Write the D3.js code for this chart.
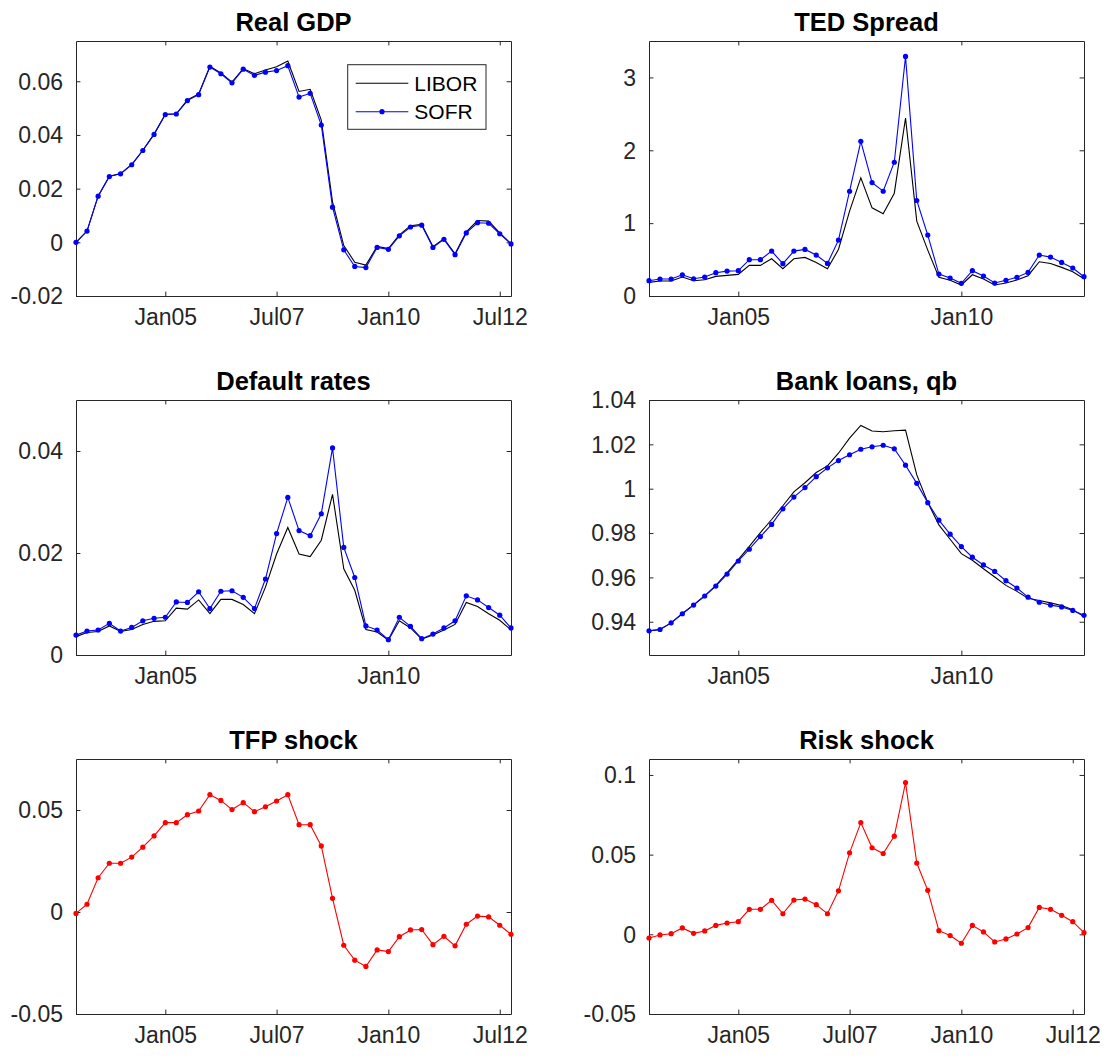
<!DOCTYPE html>
<html>
<head>
<meta charset="utf-8">
<script src="https://cdn.jsdelivr.net/npm/d3@7"></script>
<style>
  body { margin: 0; background: #fff; }
  svg { display: block; }
  text { font-family: "Liberation Sans", Arial, Helvetica, sans-serif; }
</style>
</head>
<body>
<svg id="fig" width="1107" height="1057"></svg>
<script>
// Quarterly observations, 2003Q1 .. 2012Q4 (dates at quarter start)
const quarters = d3.range(40).map(i => new Date(2003 + Math.floor(i / 4), (i % 4) * 3, 1));

// Real GDP
const gdpLibor = [0, 0.0042, 0.0172, 0.0246, 0.0256, 0.0290, 0.0343, 0.0403, 0.0477, 0.0479,
  0.0530, 0.0553, 0.0656, 0.0631, 0.0597, 0.0647, 0.0628, 0.0642, 0.0654, 0.0675,
  0.0562, 0.0570, 0.0455, 0.0151, -0.0012, -0.0074, -0.0085, -0.0015, -0.0023, 0.0028,
  0.0062, 0.0067, -0.0016, 0.0013, -0.0043, 0.0039, 0.0081, 0.0079, 0.0035, -0.0005];
const gdpSofr = [0, 0.0042, 0.0172, 0.0245, 0.0255, 0.0289, 0.0342, 0.0402, 0.0476, 0.0478,
  0.0528, 0.0550, 0.0653, 0.0628, 0.0594, 0.0645, 0.0622, 0.0634, 0.0640, 0.0658,
  0.0541, 0.0555, 0.0437, 0.0131, -0.0028, -0.0090, -0.0094, -0.0019, -0.0026, 0.0024,
  0.0057, 0.0064, -0.0019, 0.0011, -0.0046, 0.0035, 0.0073, 0.0071, 0.0032, -0.0006];

// TED spread
const tedLibor = [0.187, 0.205, 0.205, 0.260, 0.210, 0.224, 0.269, 0.283, 0.297, 0.420,
  0.420, 0.511, 0.374, 0.511, 0.530, 0.461, 0.374, 0.639, 1.164, 1.621,
  1.210, 1.128, 1.411, 2.443, 1.027, 0.630, 0.256, 0.215, 0.151, 0.292,
  0.233, 0.151, 0.178, 0.219, 0.279, 0.470, 0.447, 0.393, 0.333, 0.237];
const tedSofr = [0.210, 0.233, 0.233, 0.292, 0.237, 0.260, 0.320, 0.342, 0.347, 0.498,
  0.498, 0.616, 0.443, 0.616, 0.639, 0.562, 0.447, 0.767, 1.438, 2.123,
  1.557, 1.438, 1.836, 3.288, 1.311, 0.836, 0.301, 0.247, 0.174, 0.347,
  0.274, 0.178, 0.215, 0.256, 0.324, 0.562, 0.534, 0.461, 0.384, 0.265];

// Default rates
const defaultLibor = [0.0036, 0.0044, 0.0046, 0.0057, 0.0046, 0.0050, 0.0060, 0.0066, 0.0067, 0.0092,
  0.0090, 0.0108, 0.0081, 0.0109, 0.0109, 0.0099, 0.0081, 0.0133, 0.0198, 0.0250,
  0.0198, 0.0193, 0.0225, 0.0315, 0.0169, 0.0127, 0.0050, 0.0045, 0.0029, 0.0067,
  0.0053, 0.0031, 0.0039, 0.0049, 0.0060, 0.0103, 0.0095, 0.0081, 0.0068, 0.0049];
const defaultSofr = [0.0039, 0.0047, 0.0049, 0.0062, 0.0047, 0.0054, 0.0067, 0.0072, 0.0074, 0.0104,
  0.0103, 0.0124, 0.0091, 0.0125, 0.0126, 0.0113, 0.0091, 0.0149, 0.0238, 0.0309,
  0.0244, 0.0234, 0.0277, 0.0406, 0.0211, 0.0152, 0.0057, 0.0049, 0.0030, 0.0074,
  0.0056, 0.0032, 0.0041, 0.0053, 0.0067, 0.0116, 0.0108, 0.0093, 0.0078, 0.0053];

// Bank loans, qb
const loansLibor = [0.9359, 0.9365, 0.9395, 0.9437, 0.9476, 0.9517, 0.9564, 0.9620, 0.9680, 0.9740,
  0.9802, 0.9861, 0.9923, 0.9986, 1.0027, 1.0073, 1.0103, 1.0160, 1.0228, 1.0285,
  1.0260, 1.0257, 1.0261, 1.0264, 1.0062, 0.9938, 0.9837, 0.9772, 0.9707, 0.9677,
  0.9639, 0.9602, 0.9564, 0.9537, 0.9506, 0.9496, 0.9485, 0.9473, 0.9454, 0.9423];
const loansSofr = [0.9359, 0.9365, 0.9395, 0.9436, 0.9475, 0.9516, 0.9561, 0.9615, 0.9674, 0.9727,
  0.9784, 0.9839, 0.9909, 0.9962, 1.0005, 1.0054, 1.0094, 1.0127, 1.0153, 1.0178,
  1.0189, 1.0196, 1.0180, 1.0106, 1.0024, 0.9937, 0.9858, 0.9795, 0.9739, 0.9691,
  0.9656, 0.9627, 0.9585, 0.9552, 0.9511, 0.9488, 0.9475, 0.9467, 0.9451, 0.9429];

// Shocks
const tfpShock = [-0.0007, 0.0038, 0.0168, 0.0239, 0.0239, 0.0269, 0.0318, 0.0373, 0.0438, 0.0438,
  0.0477, 0.0495, 0.0575, 0.0547, 0.0502, 0.0536, 0.0492, 0.0516, 0.0544, 0.0575,
  0.0428, 0.0428, 0.0324, 0.0067, -0.0163, -0.0236, -0.0267, -0.0186, -0.0194, -0.0121,
  -0.0088, -0.0086, -0.0160, -0.0119, -0.0166, -0.0060, -0.0020, -0.0024, -0.0065, -0.0109];
const riskShock = [-0.0023, -0.0004, 0.0004, 0.0040, 0.0006, 0.0021, 0.0056, 0.0071, 0.0079, 0.0157,
  0.0157, 0.0213, 0.0129, 0.0215, 0.0221, 0.0186, 0.0129, 0.0273, 0.0511, 0.0701,
  0.0543, 0.0507, 0.0616, 0.0952, 0.0447, 0.0276, 0.0023, -0.0008, -0.0056, 0.0056,
  0.0015, -0.0048, -0.0029, 0.0002, 0.0042, 0.0169, 0.0157, 0.0119, 0.0079, 0.0010];

// Tick positions and labels
const xTicksFull = [new Date(2005, 0, 1), new Date(2007, 6, 1), new Date(2010, 0, 1), new Date(2012, 6, 1)];
const xLabelsFull = ["Jan05", "Jul07", "Jan10", "Jul12"];
const xTicksShort = [new Date(2005, 0, 1), new Date(2010, 0, 1)];
const xLabelsShort = ["Jan05", "Jan10"];

const gdpTicks = [-0.02, 0, 0.02, 0.04, 0.06];
const gdpTickLabels = ["-0.02", "0", "0.02", "0.04", "0.06"];
const tedTicks = [0, 1, 2, 3];
const tedTickLabels = ["0", "1", "2", "3"];
const defaultTicks = [0, 0.02, 0.04];
const defaultTickLabels = ["0", "0.02", "0.04"];
const loansTicks = [0.94, 0.96, 0.98, 1, 1.02, 1.04];
const loansTickLabels = ["0.94", "0.96", "0.98", "1", "1.02", "1.04"];
const tfpTicks = [-0.05, 0, 0.05];
const tfpTickLabels = ["-0.05", "0", "0.05"];
const riskTicks = [-0.05, 0, 0.05, 0.1];
const riskTickLabels = ["-0.05", "0", "0.05", "0.1"];

const seriesNames = ["LIBOR", "SOFR"];

// ---- layout ----
const colX = [76, 649];
const rowY = [41, 400, 759];
const plotW = 435, plotH = 255;
const tickLen = 4.4;
const axisColor = "#262626";

const BLACK = "#000000", BLUE = "#0000ff", RED = "#ff0000";

const panels = [
  { title: "Real GDP", col: 0, row: 0, y: [-0.02, 0.075], yt: gdpTicks, yl: gdpTickLabels,
    xt: xTicksFull, xl: xLabelsFull, legend: true,
    series: [{ v: gdpLibor, c: BLACK, dots: false }, { v: gdpSofr, c: BLUE, dots: true }] },
  { title: "TED Spread", col: 1, row: 0, y: [0, 3.5], yt: tedTicks, yl: tedTickLabels,
    xt: xTicksShort, xl: xLabelsShort,
    series: [{ v: tedLibor, c: BLACK, dots: false }, { v: tedSofr, c: BLUE, dots: true }] },
  { title: "Default rates", col: 0, row: 1, y: [0, 0.05], yt: defaultTicks, yl: defaultTickLabels,
    xt: xTicksShort, xl: xLabelsShort,
    series: [{ v: defaultLibor, c: BLACK, dots: false }, { v: defaultSofr, c: BLUE, dots: true }] },
  { title: "Bank loans, qb", col: 1, row: 1, y: [0.925, 1.04], yt: loansTicks, yl: loansTickLabels,
    xt: xTicksShort, xl: xLabelsShort,
    series: [{ v: loansLibor, c: BLACK, dots: false }, { v: loansSofr, c: BLUE, dots: true }] },
  { title: "TFP shock", col: 0, row: 2, y: [-0.05, 0.075], yt: tfpTicks, yl: tfpTickLabels,
    xt: xTicksFull, xl: xLabelsFull,
    series: [{ v: tfpShock, c: RED, dots: true }] },
  { title: "Risk shock", col: 1, row: 2, y: [-0.05, 0.11], yt: riskTicks, yl: riskTickLabels,
    xt: xTicksFull, xl: xLabelsFull,
    series: [{ v: riskShock, c: RED, dots: true }] }
];

const svg = d3.select("#fig");
svg.append("rect").attr("width", 1107).attr("height", 1057).attr("fill", "#fff");

function styleAxis(g) {
  g.selectAll(".domain").attr("stroke", axisColor).attr("stroke-width", 1);
  g.selectAll(".tick line").attr("stroke", axisColor).attr("stroke-width", 1);
  g.selectAll(".tick text").attr("fill", axisColor).attr("font-size", 23)
    .attr("font-family", "'Liberation Sans', Arial, Helvetica, sans-serif");
}

panels.forEach(p => {
  const x0 = colX[p.col], y0 = rowY[p.row];
  const g = svg.append("g").attr("transform", `translate(${x0},${y0})`);

  const x = d3.scaleTime().domain([quarters[0], quarters[quarters.length - 1]]).range([0, plotW]);
  const y = d3.scaleLinear().domain(p.y).range([plotH, 0]);

  // axes box with inward ticks on all four sides
  const bottom = g.append("g").attr("transform", `translate(0,${plotH})`)
    .call(d3.axisBottom(x).tickValues(p.xt).tickFormat((d, i) => p.xl[i])
      .tickSizeInner(-tickLen).tickSizeOuter(0).tickPadding(12.5));
  const top = g.append("g")
    .call(d3.axisTop(x).tickValues(p.xt).tickFormat("").tickSizeInner(-tickLen).tickSizeOuter(0));
  const left = g.append("g")
    .call(d3.axisLeft(y).tickValues(p.yt).tickFormat((d, i) => p.yl[i])
      .tickSizeInner(-tickLen).tickSizeOuter(0).tickPadding(13));
  const right = g.append("g").attr("transform", `translate(${plotW},0)`)
    .call(d3.axisRight(y).tickValues(p.yt).tickFormat("").tickSizeInner(-tickLen).tickSizeOuter(0));
  [bottom, top, left, right].forEach(styleAxis);
  left.selectAll(".tick text").attr("dy", "0.34em");

  // series
  p.series.forEach(s => {
    const pts = s.v.map((v, i) => [quarters[i], v]);
    g.append("path")
      .datum(pts)
      .attr("fill", "none")
      .attr("stroke", s.c)
      .attr("stroke-width", 1.1)
      .attr("stroke-linejoin", "miter")
      .attr("d", d3.line().x(d => x(d[0])).y(d => y(d[1])));
    if (s.dots) {
      g.append("g").selectAll("circle").data(pts).join("circle")
        .attr("cx", d => x(d[0])).attr("cy", d => y(d[1]))
        .attr("r", 2.6).attr("fill", s.c);
    }
  });

  // title
  g.append("text")
    .attr("x", plotW / 2).attr("y", -10)
    .attr("text-anchor", "middle")
    .attr("font-size", 25.5).attr("font-weight", "bold").attr("fill", "#000")
    .text(p.title);

  // legend
  if (p.legend) {
    const lg = g.append("g").attr("transform", `translate(${347.7 - x0},${64.7 - y0})`);
    lg.append("rect").attr("width", 138.3).attr("height", 64.6)
      .attr("fill", "#fff").attr("stroke", axisColor).attr("stroke-width", 1);
    const rows = [{ c: BLACK, dots: false, y: 18.6 }, { c: BLUE, dots: true, y: 47 }];
    rows.forEach((r, i) => {
      lg.append("line").attr("x1", 8).attr("x2", 60.6).attr("y1", r.y).attr("y2", r.y)
        .attr("stroke", r.c).attr("stroke-width", 1.1);
      if (r.dots) lg.append("circle").attr("cx", 34.3).attr("cy", r.y).attr("r", 2.6).attr("fill", r.c);
      lg.append("text").attr("x", 66.6).attr("y", r.y).attr("dy", "0.35em")
        .attr("font-size", 21).attr("fill", "#000").text(seriesNames[i]);
    });
  }
});
</script>
</body>
</html>
